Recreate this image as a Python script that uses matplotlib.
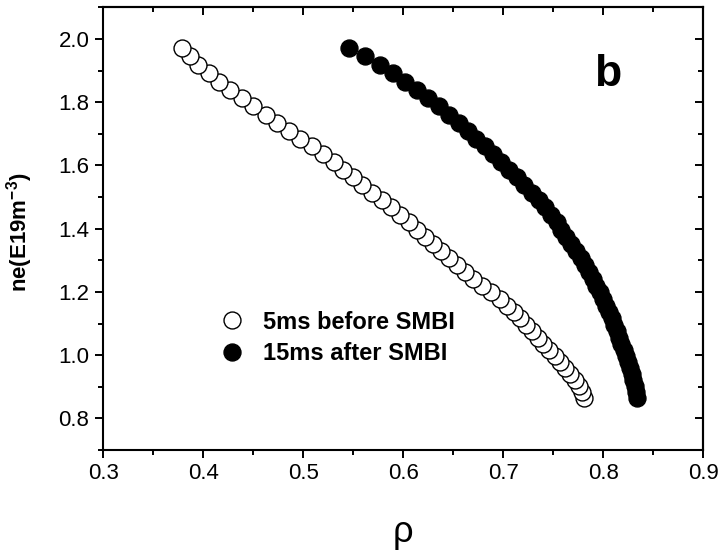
import matplotlib
matplotlib.use("Agg")
import matplotlib.pyplot as plt
from matplotlib.ticker import MultipleLocator

plt.rcParams["font.family"] = ["Liberation Sans", "DejaVu Sans"]
plt.rcParams["mathtext.fontset"] = "custom"
plt.rcParams["mathtext.rm"] = "Liberation Sans"
plt.rcParams["mathtext.bf"] = "Liberation Sans:bold"

# Density layers (1e19 m^-3), ordered from edge to core
density = [0.866, 0.884, 0.902, 0.921, 0.940, 0.958, 0.977, 0.997, 1.016, 1.036,
           1.055, 1.075, 1.095, 1.116, 1.136, 1.157, 1.178, 1.199, 1.220, 1.242,
           1.263, 1.285, 1.307, 1.329, 1.352, 1.374, 1.397, 1.420, 1.443, 1.467,
           1.490, 1.514, 1.538, 1.562, 1.586, 1.610, 1.635, 1.660, 1.685, 1.710,
           1.735, 1.761, 1.787, 1.813, 1.839, 1.865, 1.891, 1.918, 1.945, 1.972]

# Normalised radius of each layer, 5 ms before SMBI
rho_before = [0.781, 0.779, 0.776, 0.772, 0.767, 0.762, 0.757, 0.752, 0.746, 0.740,
              0.735, 0.729, 0.723, 0.717, 0.711, 0.704, 0.697, 0.688, 0.679, 0.670,
              0.662, 0.654, 0.646, 0.638, 0.630, 0.622, 0.614, 0.606, 0.597, 0.588,
              0.579, 0.569, 0.559, 0.550, 0.540, 0.531, 0.520, 0.509, 0.497, 0.486,
              0.474, 0.463, 0.450, 0.439, 0.427, 0.416, 0.406, 0.395, 0.387, 0.379]

# Normalised radius of each layer, 15 ms after SMBI
rho_after = [0.834, 0.833, 0.832, 0.830, 0.829, 0.827, 0.825, 0.823, 0.821, 0.818,
             0.816, 0.814, 0.811, 0.809, 0.806, 0.803, 0.800, 0.797, 0.793, 0.790,
             0.786, 0.782, 0.778, 0.773, 0.768, 0.763, 0.758, 0.754, 0.748, 0.742,
             0.736, 0.729, 0.721, 0.714, 0.706, 0.698, 0.690, 0.682, 0.673, 0.665,
             0.656, 0.646, 0.636, 0.625, 0.614, 0.602, 0.590, 0.577, 0.562, 0.546]

labels = ["5ms before SMBI", "15ms after SMBI"]
x_ticks = [0.3, 0.4, 0.5, 0.6, 0.7, 0.8, 0.9]
y_ticks = [0.8, 1.0, 1.2, 1.4, 1.6, 1.8, 2.0]

fig = plt.figure(figsize=(7.2, 5.58), dpi=100)
ax = fig.add_axes([0.1435, 0.1935, 0.8333, 0.7934])

ms = 12.2
ax.plot(rho_before, density, linestyle="none", marker="o", markersize=ms,
        markerfacecolor="white", markeredgecolor="black", markeredgewidth=1.0,
        label=labels[0])
ax.plot(rho_after, density, linestyle="none", marker="o", markersize=ms,
        markerfacecolor="black", markeredgecolor="black", markeredgewidth=1.0,
        label=labels[1])

ax.set_xlim(0.3, 0.9)
ax.set_ylim(0.7, 2.1)
ax.set_xticks(x_ticks)
ax.set_yticks(y_ticks)
ax.set_xticklabels([f"{v:.1f}" for v in x_ticks])
ax.set_yticklabels([f"{v:.1f}" for v in y_ticks])
ax.xaxis.set_minor_locator(MultipleLocator(0.05))
ax.yaxis.set_minor_locator(MultipleLocator(0.1))

for s in ax.spines.values():
    s.set_linewidth(1.5)

ax.tick_params(which="both", width=1.4, labelsize=16)
ax.tick_params(which="major", length=6)
ax.tick_params(which="minor", length=3.6)
ax.tick_params(axis="x", which="both", direction="out", top=False, pad=3)
ax.tick_params(axis="y", which="both", direction="out", right=False, pad=4)

# mirrored inward ticks on the top and right edges
axt = ax.secondary_xaxis("top")
axt.set_xticks(x_ticks)
axt.xaxis.set_minor_locator(MultipleLocator(0.05))
axt.tick_params(which="both", direction="in", width=1.4, labeltop=False)
axt.tick_params(which="major", length=6)
axt.tick_params(which="minor", length=3.6)
axr = ax.secondary_yaxis("right")
axr.set_yticks(y_ticks)
axr.yaxis.set_minor_locator(MultipleLocator(0.1))
axr.tick_params(which="both", direction="in", width=1.4, labelright=False)
axr.tick_params(which="major", length=6)
axr.tick_params(which="minor", length=3.6)
for sa in (axt, axr):
    for s in sa.spines.values():
        s.set_linewidth(1.5)

leg = ax.legend(loc="center left", bbox_to_anchor=(0.195, 0.253), frameon=False,
                borderpad=0, borderaxespad=0, handlelength=1.0, handletextpad=0.8,
                labelspacing=0.37, prop={"weight": "bold", "size": 17})

ax.text(0.841, 0.848, "b", transform=ax.transAxes, ha="center", va="center",
        fontsize=32, fontweight="bold")

fig.text(20 / 720, 1 - 232 / 558, r"$\mathbf{ne(E19m^{-3})}$", rotation=90,
         ha="center", va="center", fontsize=16)
fig.text(403 / 720, 1 - 532 / 558, "ρ", ha="center", va="center", fontsize=26)

fig.savefig("out.png", dpi=100)
